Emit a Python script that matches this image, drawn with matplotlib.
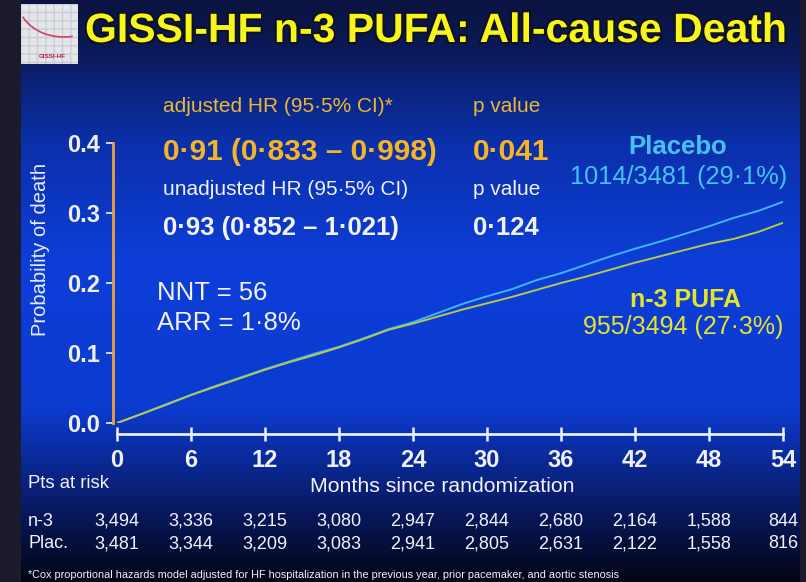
import numpy as np
import matplotlib
matplotlib.use('Agg')
import matplotlib.pyplot as plt
import matplotlib.patheffects as pe
from matplotlib import font_manager
from matplotlib.colors import LinearSegmentedColormap
from matplotlib.transforms import blended_transform_factory
from matplotlib.patches import Rectangle, Arc

# --- data -------------------------------------------------------------
months = [0, 2, 4, 6, 8, 10, 12, 14, 16, 18, 20, 22, 24, 26,
          28, 30, 32, 34, 36, 38, 40, 42, 44, 46, 48, 50, 52, 54]
placebo = [0.000, 0.013, 0.027, 0.040, 0.053, 0.065, 0.077, 0.088, 0.099, 0.109,
           0.121, 0.134, 0.144, 0.157, 0.170, 0.181, 0.191, 0.204, 0.214, 0.226,
           0.238, 0.249, 0.259, 0.270, 0.281, 0.293, 0.303, 0.316]
pufa = [0.000, 0.013, 0.026, 0.040, 0.052, 0.064, 0.076, 0.087, 0.097, 0.108,
        0.120, 0.133, 0.142, 0.152, 0.162, 0.171, 0.180, 0.190, 0.200, 0.209,
        0.219, 0.229, 0.238, 0.247, 0.256, 0.263, 0.273, 0.286]

risk_months = [0, 6, 12, 18, 24, 30, 36, 42, 48, 54]
risk_n3 = ['3,494', '3,336', '3,215', '3,080', '2,947', '2,844', '2,680', '2,164', '1,588', '844']
risk_plac = ['3,481', '3,344', '3,209', '3,083', '2,941', '2,805', '2,631', '2,122', '1,558', '816']
y_ticks = [0.0, 0.1, 0.2, 0.3, 0.4]

# --- fonts ------------------------------------------------------------
names = {f.name for f in font_manager.fontManager.ttflist}
SANS = 'Liberation Sans' if 'Liberation Sans' in names else 'DejaVu Sans'
plt.rcParams['font.family'] = SANS

W, H = 806, 582
fig = plt.figure(figsize=(W / 100, H / 100), dpi=100)
fig.patch.set_facecolor('#1b1b2d')


def fx(px):
    return px / W


def fy(py):
    return 1 - py / H


# background slide gradient
bg = fig.add_axes([fx(21), 0, fx(800) - fx(21), 1], zorder=0)
grad = LinearSegmentedColormap.from_list('slide', [
    (0.00, '#0a1240'), (0.10, '#0b1b5c'), (0.14, '#0a2378'), (0.25, '#0b30ac'),
    (0.45, '#0d3ed8'), (0.70, '#0c3bd0'), (0.80, '#0a2892'), (0.90, '#071552'),
    (1.00, '#020616')])
bg.imshow(np.linspace(0, 1, 256).reshape(-1, 1), aspect='auto', cmap=grad,
          extent=[0, 1, 0, 1], origin='upper')
bg.set_axis_off()

# logo
logo = fig.add_axes([fx(21), fy(64), fx(57), 60 / H], zorder=1)
logo.add_patch(Rectangle((0, 0), 1, 1, facecolor='#e4e6ea', edgecolor='#c8ccd4',
                         hatch='++', linewidth=0))
logo.add_patch(Arc((0.75, 1.05), 1.6, 1.2, theta1=200, theta2=285, color='#d04060', lw=1.2))
logo.text(0.55, 0.12, 'GISSI-HF', color='#c02040', fontsize=4.5, fontweight='bold',
          ha='center', va='center')
logo.set_xlim(0, 1)
logo.set_ylim(0, 1)
logo.set_axis_off()

# title
fig.text(fx(85), fy(31), 'GISSI-HF n-3 PUFA: All-cause Death',
         fontsize=29.5, fontweight='bold', color='#f6f61c', va='center', ha='left',
         path_effects=[pe.withStroke(linewidth=3, foreground='#101020')], zorder=5)

# --- main axes ----------------------------------------------------------
ax = fig.add_axes([fx(117), fy(423), fx(783) - fx(117), (423 - 143) / H], zorder=2)
ax.set_facecolor('none')
ax.plot(months, placebo, color='#3fb4f8', lw=1.4)
ax.plot(months, pufa, color='#b4c84c', lw=1.4)
ax.set_xlim(0, 54)
ax.set_ylim(0, 0.4)
ax.set_xticks(risk_months)
ax.set_yticks(y_ticks)
ax.set_yticklabels([f'{v:.1f}' for v in y_ticks])
for s in ['top', 'right']:
    ax.spines[s].set_visible(False)
ax.spines['left'].set_color('#eea040')
ax.spines['left'].set_linewidth(2)
ax.spines['left'].set_position(('outward', 3))
ax.spines['bottom'].set_color('#e8eefc')
ax.spines['bottom'].set_linewidth(2)
ax.spines['bottom'].set_position(('outward', 8))
ax.tick_params(axis='y', colors='#f0f0f8', length=5, width=1.2, pad=4,
               labelsize=17)
ax.tick_params(axis='x', colors='#f0f0f8', direction='inout', length=10, width=1.8,
               pad=6, labelsize=17)
for lab in ax.get_yticklabels() + ax.get_xticklabels():
    lab.set_fontweight('bold')
ax.set_ylabel('Probability of death', color='#e8ecf8', fontsize=14.5)
ax.yaxis.set_label_coords((50 - 117) / 666, (423 - 249) / 280)

# --- annotation texts -----------------------------------------------------
ORANGE = '#ecb636'
WHITE = '#f2f2f8'
fig.text(fx(163), fy(107), 'adjusted HR (95·5% CI)*', color=ORANGE, fontsize=15, va='center')
fig.text(fx(473), fy(107), 'p value', color=ORANGE, fontsize=15, va='center')
fig.text(fx(163), fy(152), '0·91 (0·833 – 0·998)', color='#f4b424', fontsize=21.5,
         fontweight='bold', va='center')
fig.text(fx(473), fy(152), '0·041', color='#f4b424', fontsize=21.5, fontweight='bold', va='center')
fig.text(fx(163), fy(190), 'unadjusted HR (95·5% CI)', color=WHITE, fontsize=15, va='center')
fig.text(fx(473), fy(190), 'p value', color=WHITE, fontsize=15, va='center')
fig.text(fx(163), fy(228), '0·93 (0·852 – 1·021)', color=WHITE, fontsize=18.5,
         fontweight='bold', va='center')
fig.text(fx(473), fy(228), '0·124', color=WHITE, fontsize=18.5, fontweight='bold', va='center')

fig.text(fx(157), fy(293), 'NNT = 56', color=WHITE, fontsize=18.5, va='center')
fig.text(fx(157), fy(323), 'ARR = 1·8%', color=WHITE, fontsize=18.5, va='center')

fig.text(fx(678), fy(147), 'Placebo', color='#46c2f2', fontsize=18.5, fontweight='bold',
         ha='center', va='center')
fig.text(fx(679), fy(177), '1014/3481 (29·1%)', color='#46c2f2', fontsize=18.3,
         ha='center', va='center')
fig.text(fx(686), fy(300), 'n-3 PUFA', color='#e4e42a', fontsize=18, fontweight='bold',
         ha='center', va='center')
fig.text(fx(683), fy(327), '955/3494 (27·3%)', color='#e4e42a', fontsize=18,
         ha='center', va='center')

# --- at-risk table ----------------------------------------------------------
fig.text(fx(28), fy(483), 'Pts at risk', color=WHITE, fontsize=13.3, va='center')
fig.text(fx(442), fy(487), 'Months since randomization', color=WHITE, fontsize=15.3,
         ha='center', va='center')
tr = blended_transform_factory(ax.transData, fig.transFigure)
fig.text(fx(28), fy(521), 'n-3', color=WHITE, fontsize=13, va='center')
fig.text(fx(28), fy(544), 'Plac.', color=WHITE, fontsize=13, va='center')
for m, a, b in zip(risk_months, risk_n3, risk_plac):
    ax.text(m, fy(521), a, transform=tr, color=WHITE, fontsize=13, ha='center',
            va='center')
    ax.text(m, fy(544), b, transform=tr, color=WHITE, fontsize=13, ha='center',
            va='center')

fig.text(fx(28), fy(575), '*Cox proportional hazards model adjusted for HF hospitalization '
         'in the previous year, prior pacemaker, and aortic stenosis',
         color=WHITE, fontsize=7.8, va='center')

fig.savefig('out.png', dpi=100, facecolor=fig.get_facecolor())
